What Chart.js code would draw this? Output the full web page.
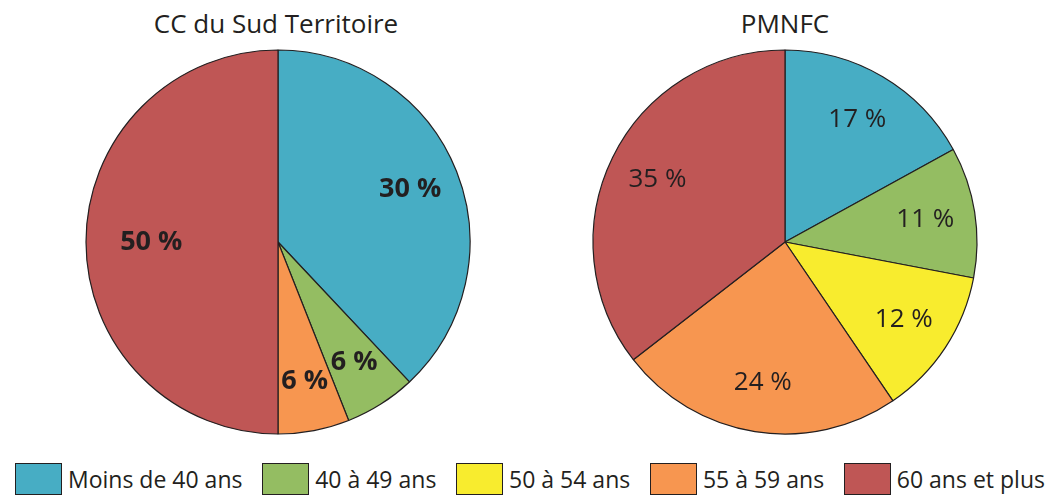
<!DOCTYPE html>
<html>
<head>
<meta charset="utf-8">
<script src="https://cdn.jsdelivr.net/npm/chart.js@4/dist/chart.umd.min.js"></script>
<style>
  body { margin: 0; background: #fff; width: 1048px; height: 502px; overflow: hidden; position: relative; font-family: "Open Sans", sans-serif; color: #231f20; }
  .titre { position: absolute; top: 5px; font-size: 26px; text-align: center; width: 400px; }
  .pie { position: absolute; top: 42px; width: 400px; height: 400px; }
  #legende { position: absolute; left: 15px; width: 1030px; top: 463px; display: flex; justify-content: space-between; align-items: center; font-size: 23px; }
  .item { display: flex; align-items: center; }
  .carre { width: 45px; height: 30px; border: 1px solid #231f20; margin-right: 6px; }
</style>
</head>
<body>
<div class="titre" style="left:76px">CC du Sud Territoire</div>
<div class="titre" style="left:585px">PMNFC</div>
<div class="pie" style="left:78px"><canvas id="pieSud"></canvas></div>
<div class="pie" style="left:585px"><canvas id="piePmnfc"></canvas></div>
<div id="legende"></div>

<script>
// Tranches d'âge
const categories = ["Moins de 40 ans", "40 à 49 ans", "50 à 54 ans", "55 à 59 ans", "60 ans et plus"];
const couleurs = ["#47adc4", "#94bd62", "#f8ec2e", "#f79650", "#bf5655"];

// CC du Sud Territoire (parts telles que dessinées) et étiquettes imprimées
const valeursSud = [38, 6, 0, 6, 50];
const etiquettesSud = ["30 %", "6 %", "", "6 %", "50 %"];

// PMNFC
const valeursPmnfc = [17, 11, 12.5, 24, 35.5];
const etiquettesPmnfc = ["17 %", "11 %", "12 %", "24 %", "35 %"];

// Plugin pour écrire les pourcentages dans les parts
const etiquettesPlugin = {
    id: 'etiquettes',
    afterDatasetsDraw(chart, args, opts) {
        const ctx = chart.ctx;
        const meta = chart.getDatasetMeta(0);
        ctx.save();
        ctx.fillStyle = '#231f20';
        ctx.font = opts.font;
        ctx.textAlign = 'center';
        ctx.textBaseline = 'middle';
        meta.data.forEach((arc, i) => {
            const txt = opts.textes[i];
            if (!txt) return;
            const p = arc.getProps(['x', 'y', 'startAngle', 'endAngle', 'outerRadius']);
            const mid = (p.startAngle + p.endAngle) / 2;
            // la moitié de camembert a son texte plus près du centre
            const r = p.outerRadius * (p.endAngle - p.startAngle > 2.5 ? 0.66 : 0.74);
            ctx.fillText(txt, p.x + Math.cos(mid) * r, p.y + Math.sin(mid) * r);
        });
        ctx.restore();
    }
};

function camembert(id, valeurs, textes, font) {
    new Chart(document.getElementById(id), {
        type: 'pie',
        data: {
            labels: categories,
            datasets: [{
                data: valeurs,
                backgroundColor: couleurs,
                borderColor: '#231f20',
                borderWidth: 1.2,
                radius: 192,
                hoverOffset: 0
            }]
        },
        options: {
            responsive: true,
            maintainAspectRatio: false,
            animation: false,
            layout: { padding: 0 },
            plugins: {
                legend: { display: false },
                tooltip: { enabled: false },
                etiquettes: { textes: textes, font: font }
            }
        },
        plugins: [etiquettesPlugin]
    });
}

camembert('pieSud', valeursSud, etiquettesSud, 'bold 27px "Open Sans"');
camembert('piePmnfc', valeursPmnfc, etiquettesPmnfc, '26px "Open Sans"');

// Légende commune
const legende = document.getElementById('legende');
categories.forEach((nom, i) => {
    const item = document.createElement('div');
    item.className = 'item';
    item.innerHTML = '<div class="carre" style="background:' + couleurs[i] + '"></div><span>' + nom + '</span>';
    legende.appendChild(item);
});
</script>
</body>
</html>
